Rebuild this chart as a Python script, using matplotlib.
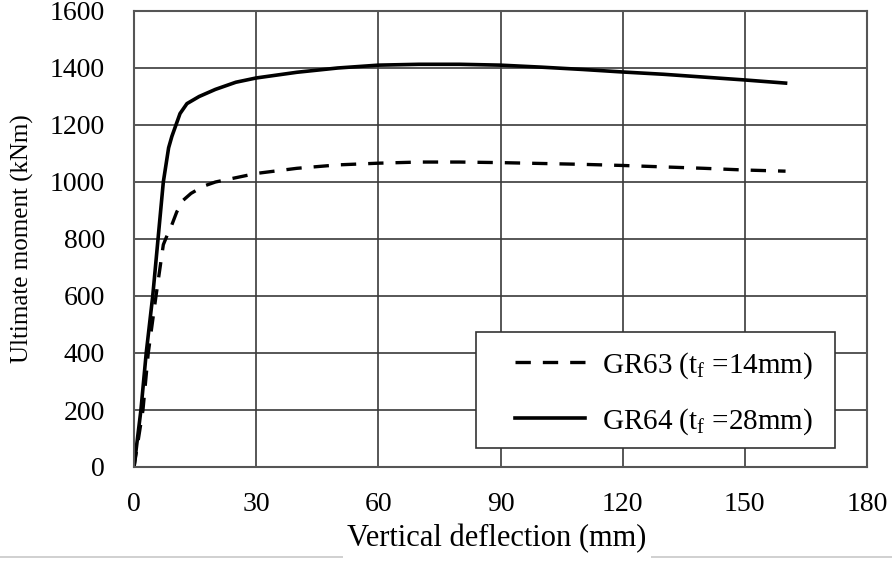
import matplotlib
matplotlib.use("Agg")
import matplotlib.pyplot as plt
from matplotlib.lines import Line2D
from matplotlib.patches import Rectangle

plt.rcParams['font.family'] = ['Liberation Serif', 'DejaVu Serif']
plt.rcParams['mathtext.fontset'] = 'custom'
plt.rcParams['mathtext.rm'] = 'Liberation Serif'
plt.rcParams['mathtext.it'] = 'Liberation Serif'

# GR63 (tf = 14 mm) - dashed
gr63_x = [0, 2.2, 3.5, 5.4, 7.2, 8.2, 9.3, 10.5, 12, 14, 17, 20, 25, 30, 40, 50,
          60, 70, 80, 90, 100, 110, 120, 130, 140, 150, 160]
gr63_y = [0, 200, 400, 600, 780, 815, 850, 895, 935, 960, 985, 1000, 1015, 1030, 1048, 1060,
          1066, 1070, 1070, 1068, 1065, 1062, 1058, 1053, 1048, 1042, 1038]

# GR64 (tf = 28 mm) - solid
gr64_x = [0, 1.7, 3.0, 4.6, 5.9, 7.2, 8.5, 9.3, 11.3, 13, 16, 20, 25, 30, 40, 50,
          60, 70, 80, 90, 100, 110, 120, 130, 140, 150, 160]
gr64_y = [0, 200, 400, 600, 800, 1000, 1120, 1160, 1240, 1275, 1300, 1325, 1350, 1365, 1385, 1400,
          1410, 1413, 1413, 1410, 1403, 1395, 1386, 1378, 1368, 1358, 1347]

x_ticks = [0, 30, 60, 90, 120, 150, 180]
y_ticks = [0, 200, 400, 600, 800, 1000, 1200, 1400, 1600]
label63 = "GR63 (t$_{\\mathrm{f}}$ =14mm)"
label64 = "GR64 (t$_{\\mathrm{f}}$ =28mm)"

fig = plt.figure(figsize=(8.92, 5.65), dpi=100)
W, H = 892, 565
L, R, T, B = 134, 867, 11, 467
ax = fig.add_axes([L / W, 1 - B / H, (R - L) / W, (B - T) / H])

def ax_x(px):
    return (px - L) / (R - L)

def ax_y(py):
    return (B - py) / (B - T)

ax.plot(gr63_x, gr63_y, color='black', lw=2.4, dashes=(4.6, 3.6), label=label63)
ax.plot(gr64_x, gr64_y, color='black', lw=2.6, label=label64)

ax.set_xlim(0, 180)
ax.set_ylim(0, 1600)
ax.set_xticks(x_ticks)
ax.set_yticks(y_ticks)
ax.tick_params(length=0, labelsize=20)
ax.tick_params(axis='x', pad=18)
ax.tick_params(axis='y', pad=21)
ax.grid(True, color='#3a3a3a', lw=1.2)
ax.set_axisbelow(True)
for s in ax.spines.values():
    s.set_color('#555555')
    s.set_linewidth(1.5)

ax.set_ylabel("Ultimate moment (kNm)", fontsize=18, va='center')
ax.yaxis.set_label_coords(ax_x(22), 0.5)

# legend box
ax.add_patch(Rectangle((ax_x(476), ax_y(448)), ax_x(835) - ax_x(476), ax_y(332) - ax_y(448),
                       transform=ax.transAxes, facecolor='white', edgecolor='#333333',
                       lw=1.2, zorder=3))
leg = ax.legend(loc='upper left', bbox_to_anchor=(ax_x(515), ax_y(350)),
                fontsize=21, frameon=False, handlelength=2.4, handletextpad=0.6,
                borderpad=0, labelspacing=0.87, borderaxespad=0)
leg.set_zorder(4)

# light gray separator line with the x label over it
fig.add_artist(Line2D([0, 1], [1 - 557 / H, 1 - 557 / H], color='#c8c8c8', lw=1.2,
                      transform=fig.transFigure))
fig.text(497 / W, 1 - 539 / H, "Vertical deflection (mm)", fontsize=22, ha='center', va='center',
         bbox=dict(facecolor='white', edgecolor='none', pad=3))

fig.savefig("out.png", dpi=100)
